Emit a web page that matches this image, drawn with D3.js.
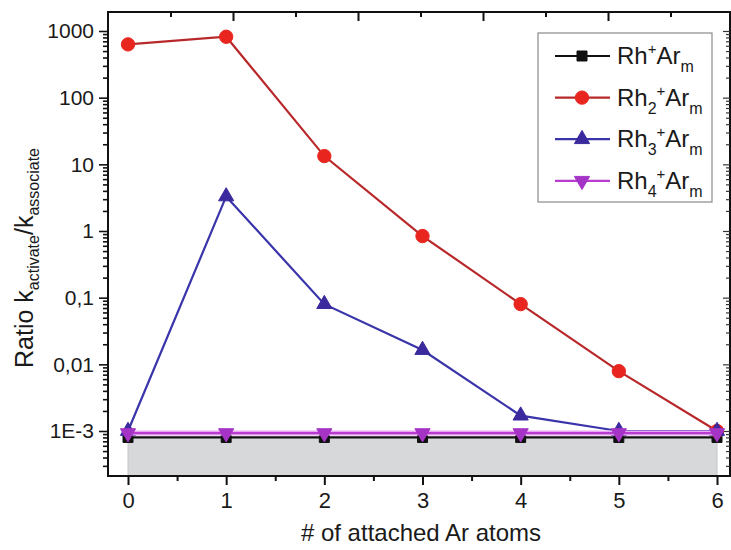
<!DOCTYPE html>
<html>
<head>
<meta charset="utf-8">
<script src="https://cdn.jsdelivr.net/npm/d3@7"></script>
<style>
  body { margin: 0; background: #fff; }
  text { font-family: "Liberation Sans", Arial, sans-serif; fill: #1a1a1a; }
</style>
</head>
<body>
<svg id="chart" width="731" height="550"></svg>
<script>
// number of attached Ar atoms
var atoms = [0, 1, 2, 3, 4, 5, 6];
// ratio k_activate / k_associate
var rh1 = [0.0008, 0.0008, 0.0008, 0.0008, 0.0008, 0.0008, 0.0008];
var rh2 = [630, 820, 13.3, 0.84, 0.08, 0.0079, 0.001];
var rh3 = [0.001, 3.3, 0.08, 0.0164, 0.0017, 0.001, 0.001];
var rh4 = [0.00093, 0.00093, 0.00093, 0.00093, 0.00093, 0.00093, 0.00093];

var yTickVals = [0.001, 0.01, 0.1, 1, 10, 100, 1000];
var yTickLabels = ["1E-3", "0,01", "0,1", "1", "10", "100", "1000"];
var xTickVals = [0, 1, 2, 3, 4, 5, 6];

var svg = d3.select("#chart");
var pLeft = 108, pRight = 730, pTop = 12, pBottom = 476;

var x = d3.scaleLinear().domain([0, 6]).range([128, 717]);
var y = d3.scaleLog().domain([Math.pow(10, -3.675), Math.pow(10, 3.285)]).range([pBottom, pTop]);
// top axis in the original has its own tick spacing
var xTop = d3.scaleLinear().domain([0, 4.976]).range([pLeft, pRight]);

// minor ticks for log axis
var yMinor = [];
yTickVals.concat([0.0001]).forEach(function(d) {
  for (var k = 2; k <= 9; k++) {
    var v = d * k;
    if (v > y.domain()[0] && v < y.domain()[1]) yMinor.push(v);
  }
});

// grey area under the Rh+ series
var area = d3.area()
  .x(function(d, i) { return x(atoms[i]); })
  .y0(pBottom)
  .y1(function(d) { return y(d); });
svg.append("path")
  .datum(rh1)
  .attr("d", area)
  .attr("fill", "#d6d8da")
  .attr("stroke", "#c4c6c8")
  .attr("stroke-width", 1);

// frame
svg.append("rect")
  .attr("x", pLeft).attr("y", pTop)
  .attr("width", pRight - pLeft).attr("height", pBottom - pTop)
  .attr("fill", "none").attr("stroke", "#111").attr("stroke-width", 2);

// bottom axis
var gx = svg.append("g").attr("transform", "translate(0," + pBottom + ")");
gx.call(d3.axisBottom(x).tickValues(xTickVals).tickSize(9).tickPadding(7).tickFormat(d3.format("d")));
gx.append("g").call(d3.axisBottom(x).tickValues([0.5, 1.5, 2.5, 3.5, 4.5, 5.5]).tickSize(5).tickFormat(""));
gx.selectAll(".domain").remove();
gx.selectAll("line").attr("stroke", "#111").attr("stroke-width", 2);
gx.selectAll("text").attr("font-size", "22px").attr("fill", "#1a1a1a").style("font-family", "Liberation Sans, Arial, sans-serif");

// top axis
var gt = svg.append("g").attr("transform", "translate(0," + pTop + ")");
gt.call(d3.axisBottom(xTop).tickValues([1, 2, 3, 4]).tickSize(9).tickFormat(""));
gt.append("g").call(d3.axisBottom(xTop).tickValues([0.5, 1.5, 2.5, 3.5, 4.5]).tickSize(5).tickFormat(""));
gt.selectAll(".domain").remove();
gt.selectAll("line").attr("stroke", "#111").attr("stroke-width", 2);

// left axis
var gy = svg.append("g").attr("transform", "translate(" + pLeft + ",0)");
gy.call(d3.axisLeft(y).tickValues(yTickVals).tickSize(9).tickPadding(5)
  .tickFormat(function(d, i) { return yTickLabels[i]; }));
gy.append("g").call(d3.axisLeft(y).tickValues(yMinor).tickSize(5).tickFormat(""));
gy.selectAll(".domain").remove();
gy.selectAll("line").attr("stroke", "#111").attr("stroke-width", 1.6);
gy.selectAll("text").attr("font-size", "21px").attr("fill", "#1a1a1a").style("font-family", "Liberation Sans, Arial, sans-serif");

// right axis
var gr = svg.append("g").attr("transform", "translate(" + pRight + ",0)");
gr.call(d3.axisLeft(y).tickValues(yTickVals).tickSize(7).tickFormat(""));
gr.append("g").call(d3.axisLeft(y).tickValues(yMinor).tickSize(4).tickFormat(""));
gr.selectAll(".domain").remove();
gr.selectAll("line").attr("stroke", "#333").attr("stroke-width", 1.2);

// series
var series = [
  { name: "Rh", sub: "", values: rh1, line: "#111111", halo: null, fill: "#111111", sym: d3.symbolSquare, size: 100, rot: 0 },
  { name: "Rh", sub: "2", values: rh2, line: "#b8282a", halo: null, fill: "#e8261f", sym: d3.symbolCircle, size: 140, rot: 0 },
  { name: "Rh", sub: "3", values: rh3, line: "#3a34aa", halo: null, fill: "#3a2a9e", sym: d3.symbolTriangle, size: 100, rot: 0 },
  { name: "Rh", sub: "4", values: rh4, line: "#b83cd0", halo: "#e9a8f2", fill: "#a534c6", sym: d3.symbolTriangle, size: 100, rot: 180 }
];

var line = d3.line()
  .x(function(d, i) { return x(atoms[i]); })
  .y(function(d) { return y(d); });

series.forEach(function(s) {
  if (s.halo) {
    svg.append("path")
      .datum(s.values)
      .attr("d", line)
      .attr("fill", "none")
      .attr("stroke", s.halo)
      .attr("stroke-width", 5);
  }
  svg.append("path")
    .datum(s.values)
    .attr("d", line)
    .attr("fill", "none")
    .attr("stroke", s.line)
    .attr("stroke-width", 2.2);
  svg.selectAll(null)
    .data(s.values)
    .enter().append("path")
    .attr("d", d3.symbol().type(s.sym).size(s.size))
    .attr("transform", function(d, i) {
      return "translate(" + x(atoms[i]) + "," + y(d) + ") rotate(" + s.rot + ")";
    })
    .attr("fill", s.fill)
    .attr("stroke", s.fill)
    .attr("stroke-width", 1);
});

// legend
var lg = svg.append("g");
lg.append("rect")
  .attr("x", 538).attr("y", 33).attr("width", 174).attr("height", 169)
  .attr("fill", "#fff").attr("stroke", "#8a8a8a").attr("stroke-width", 1.2);
series.forEach(function(s, i) {
  var cy = 56 + i * 41.6;
  lg.append("line")
    .attr("x1", 555).attr("x2", 610).attr("y1", cy).attr("y2", cy)
    .attr("stroke", s.line).attr("stroke-width", 2.2);
  lg.append("path")
    .attr("d", d3.symbol().type(s.sym).size(s.size))
    .attr("transform", "translate(582," + cy + ") rotate(" + s.rot + ")")
    .attr("fill", s.fill).attr("stroke", s.fill);
  var t = lg.append("text").attr("x", 617).attr("y", cy + 8).attr("font-size", "24px");
  t.append("tspan").text(s.name);
  if (s.sub) {
    t.append("tspan").attr("font-size", "16px").attr("dy", 8).text(s.sub);
    t.append("tspan").attr("font-size", "15px").attr("dy", -18).text("+");
    t.append("tspan").attr("dy", 10).text("Ar");
  } else {
    t.append("tspan").attr("font-size", "15px").attr("dy", -10).text("+");
    t.append("tspan").attr("dy", 10).text("Ar");
  }
  t.append("tspan").attr("font-size", "16px").attr("dy", 8).text("m");
});

// axis titles
svg.append("text")
  .attr("x", 421).attr("y", 541)
  .attr("text-anchor", "middle")
  .attr("font-size", "24px")
  .text("# of attached Ar atoms");

var yl = svg.append("text")
  .attr("transform", "translate(33,258) rotate(-90)")
  .attr("text-anchor", "middle")
  .attr("font-size", "25px");
yl.append("tspan").text("Ratio k");
yl.append("tspan").attr("font-size", "16px").attr("dy", 6).text("activate");
yl.append("tspan").attr("dy", -6).text("/k");
yl.append("tspan").attr("font-size", "16px").attr("dy", 6).text("associate");
</script>
</body>
</html>
